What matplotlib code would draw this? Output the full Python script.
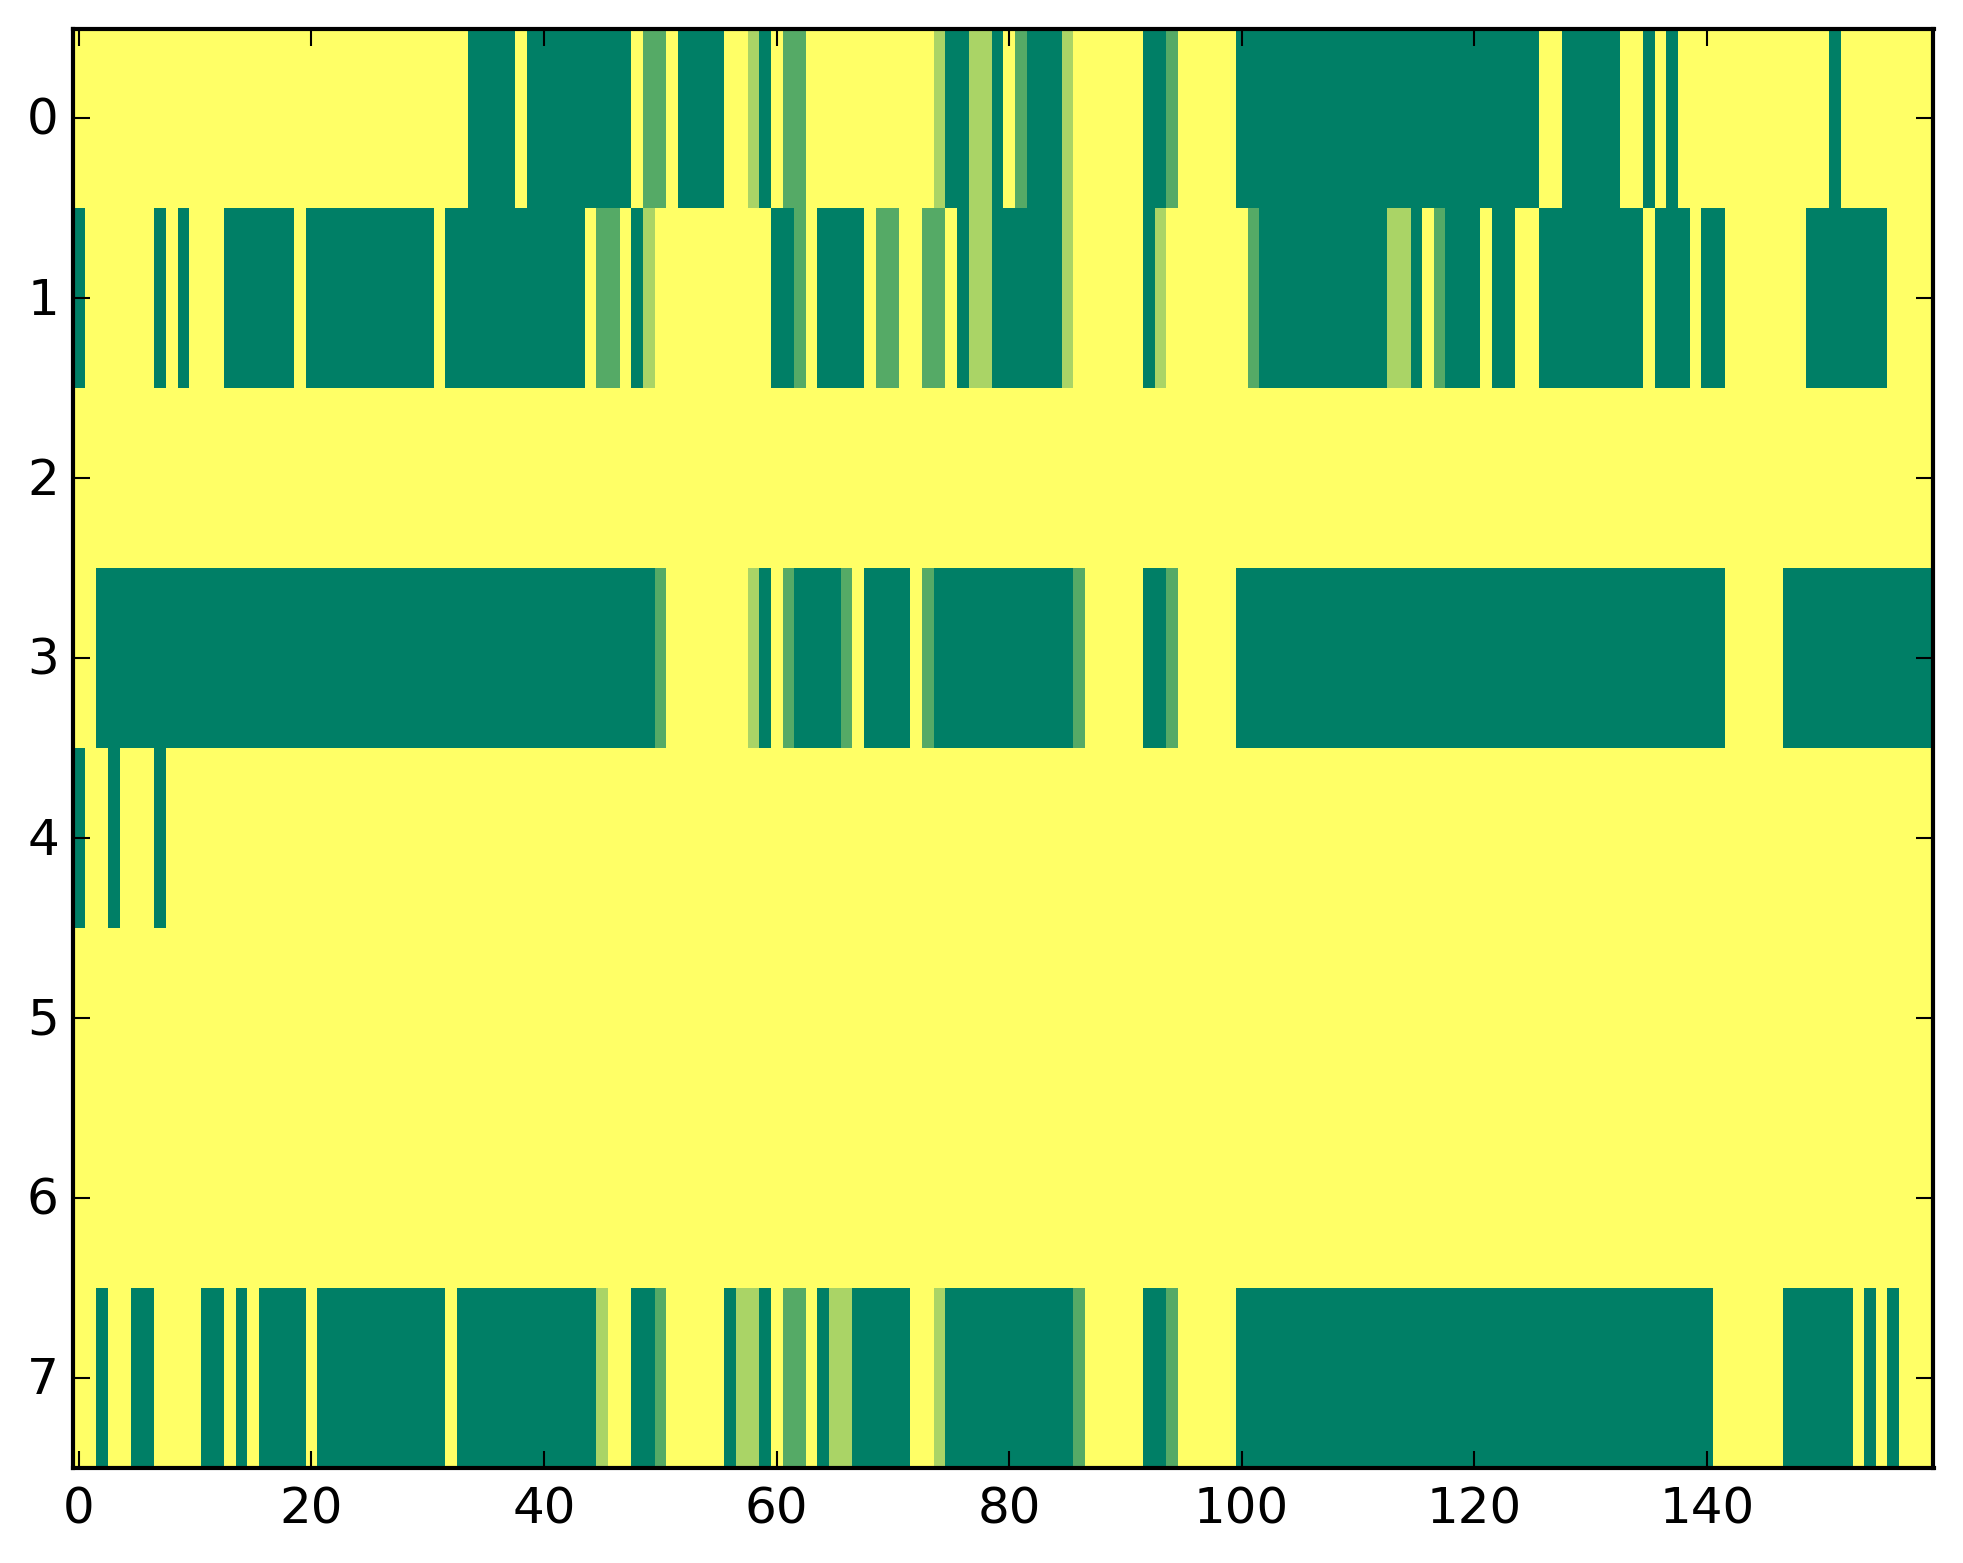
import numpy as np
import matplotlib
matplotlib.use('Agg')
import matplotlib.pyplot as plt
from matplotlib.transforms import ScaledTranslation

plt.style.use('classic')

# each row as (value, run length) pairs read left to right
row_0 = [(0, 34), (3, 4), (0, 1), (3, 9), (0, 1), (2, 2), (0, 1), (3, 4), (0, 2), (1, 1),
         (3, 1), (0, 1), (2, 2), (0, 11), (1, 1), (3, 2), (1, 2), (3, 1), (0, 1), (2, 1),
         (3, 3), (1, 1), (0, 6), (3, 2), (2, 1), (0, 5), (3, 26), (0, 2), (3, 5), (0, 2),
         (3, 1), (0, 1), (3, 1), (0, 13), (3, 1), (0, 8)]
row_1 = [(3, 1), (0, 6), (3, 1), (0, 1), (3, 1), (0, 3), (3, 6), (0, 1), (3, 11), (0, 1),
         (3, 12), (0, 1), (2, 2), (0, 1), (3, 1), (1, 1), (0, 10), (3, 2), (2, 1), (0, 1),
         (3, 4), (0, 1), (2, 2), (0, 2), (2, 2), (0, 1), (3, 1), (1, 2), (3, 6), (1, 1),
         (0, 6), (3, 1), (1, 1), (0, 7), (2, 1), (3, 11), (1, 2), (3, 1), (0, 1), (2, 1),
         (3, 3), (0, 1), (3, 2), (0, 2), (3, 9), (0, 1), (3, 3), (0, 1), (3, 2), (0, 7),
         (3, 7), (0, 4)]
row_2 = [(0, 160)]
row_3 = [(0, 2), (3, 48), (2, 1), (0, 7), (1, 1), (3, 1), (0, 1), (2, 1), (3, 4), (2, 1),
         (0, 1), (3, 4), (0, 1), (2, 1), (3, 12), (2, 1), (0, 5), (3, 2), (2, 1), (0, 5),
         (3, 42), (0, 5), (3, 13)]
row_4 = [(3, 1), (0, 2), (3, 1), (0, 3), (3, 1), (0, 152)]
row_5 = [(0, 160)]
row_6 = [(0, 160)]
row_7 = [(0, 2), (3, 1), (0, 2), (3, 2), (0, 4), (3, 2), (0, 1), (3, 1), (0, 1), (3, 4),
         (0, 1), (3, 11), (0, 1), (3, 12), (1, 1), (0, 2), (3, 2), (2, 1), (0, 5), (3, 1),
         (1, 2), (3, 1), (0, 1), (2, 2), (0, 1), (3, 1), (1, 2), (3, 5), (0, 2), (1, 1),
         (3, 11), (2, 1), (0, 5), (3, 2), (2, 1), (0, 5), (3, 41), (0, 6), (3, 6), (0, 1),
         (3, 1), (0, 1), (3, 1), (0, 3)]

rows = [row_0, row_1, row_2, row_3, row_4, row_5, row_6, row_7]
x_ticks = [0, 20, 40, 60, 80, 100, 120, 140]
y_ticks = [0, 1, 2, 3, 4, 5, 6, 7]

data = np.array([np.repeat([r[0] for r in row], [r[1] for r in row]) for row in rows])

W, H = 1963, 1564
fig = plt.figure(figsize=(W / 300, H / 300), dpi=300, facecolor='white')
ax = fig.add_axes([73 / W, 1 - 1468.7 / H, (1933.5 - 73) / W, (1468.7 - 29.5) / H])
ax.imshow(data, cmap='summer_r', vmin=0, vmax=3, aspect='auto', interpolation='nearest')
ax.set_xticks(x_ticks)
ax.set_yticks(y_ticks)
ax.set_xlim(-0.5, 159.5)
ax.set_ylim(7.5, -0.5)

# y labels sit a touch closer to the axis and lower than the default
ax.tick_params(axis='y', which='major', pad=3.4)
shift = ScaledTranslation(0, -1.5 / 300, fig.dpi_scale_trans)
for label in ax.get_yticklabels():
    label.set_transform(label.get_transform() + shift)

fig.savefig('out.png', dpi=300, facecolor='white')
